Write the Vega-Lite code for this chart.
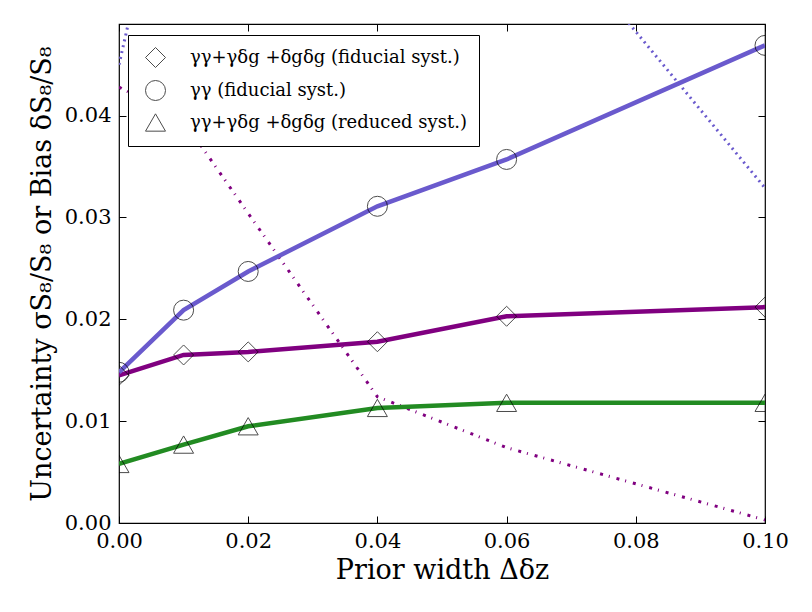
{
  "$schema": "https://vega.github.io/schema/vega-lite/v6.json",
  "width": 646,
  "height": 499,
  "autosize": "none",
  "padding": {"left": 119, "top": 24, "right": 47, "bottom": 89},
  "background": "white",
  "config": {
    "font": "DejaVu Serif",
    "view": {"stroke": "black", "strokeWidth": 1.2},
    "axis": {
      "domain": false,
      "grid": false,
      "tickColor": "black",
      "tickSize": -7,
      "tickWidth": 1,
      "labelFlush": false,
      "labelOverlap": false,
      "labelFont": "DejaVu Serif",
      "labelFontSize": 21,
      "labelColor": "black",
      "titleFont": "DejaVu Serif",
      "titleFontSize": 27,
      "titleFontWeight": "normal",
      "titleColor": "black"
    }
  },
  "datasets": {
    "rows": [
      {"dz": 0.0, "value": 0.0145, "quantity": "uncertainty", "series": "γγ+γδg +δgδg (fiducial syst.)"},
      {"dz": 0.01, "value": 0.0165, "quantity": "uncertainty", "series": "γγ+γδg +δgδg (fiducial syst.)"},
      {"dz": 0.02, "value": 0.0168, "quantity": "uncertainty", "series": "γγ+γδg +δgδg (fiducial syst.)"},
      {"dz": 0.04, "value": 0.0178, "quantity": "uncertainty", "series": "γγ+γδg +δgδg (fiducial syst.)"},
      {"dz": 0.06, "value": 0.0203, "quantity": "uncertainty", "series": "γγ+γδg +δgδg (fiducial syst.)"},
      {"dz": 0.1, "value": 0.0212, "quantity": "uncertainty", "series": "γγ+γδg +δgδg (fiducial syst.)"},
      {"dz": 0.0, "value": 0.0148, "quantity": "uncertainty", "series": "γγ (fiducial syst.)"},
      {"dz": 0.01, "value": 0.0209, "quantity": "uncertainty", "series": "γγ (fiducial syst.)"},
      {"dz": 0.02, "value": 0.0247, "quantity": "uncertainty", "series": "γγ (fiducial syst.)"},
      {"dz": 0.04, "value": 0.0311, "quantity": "uncertainty", "series": "γγ (fiducial syst.)"},
      {"dz": 0.06, "value": 0.0357, "quantity": "uncertainty", "series": "γγ (fiducial syst.)"},
      {"dz": 0.1, "value": 0.0469, "quantity": "uncertainty", "series": "γγ (fiducial syst.)"},
      {"dz": 0.0, "value": 0.0058, "quantity": "uncertainty", "series": "γγ+γδg +δgδg (reduced syst.)"},
      {"dz": 0.01, "value": 0.0077, "quantity": "uncertainty", "series": "γγ+γδg +δgδg (reduced syst.)"},
      {"dz": 0.02, "value": 0.0095, "quantity": "uncertainty", "series": "γγ+γδg +δgδg (reduced syst.)"},
      {"dz": 0.04, "value": 0.0113, "quantity": "uncertainty", "series": "γγ+γδg +δgδg (reduced syst.)"},
      {"dz": 0.06, "value": 0.0118, "quantity": "uncertainty", "series": "γγ+γδg +δgδg (reduced syst.)"},
      {"dz": 0.1, "value": 0.0118, "quantity": "uncertainty", "series": "γγ+γδg +δgδg (reduced syst.)"},
      {"dz": 0.0, "value": 0.0428, "quantity": "bias", "series": "γγ+γδg +δgδg (fiducial syst.)"},
      {"dz": 0.01, "value": 0.0395, "quantity": "bias", "series": "γγ+γδg +δgδg (fiducial syst.)"},
      {"dz": 0.02, "value": 0.0304, "quantity": "bias", "series": "γγ+γδg +δgδg (fiducial syst.)"},
      {"dz": 0.04, "value": 0.0124, "quantity": "bias", "series": "γγ+γδg +δgδg (fiducial syst.)"},
      {"dz": 0.06, "value": 0.0074, "quantity": "bias", "series": "γγ+γδg +δgδg (fiducial syst.)"},
      {"dz": 0.1, "value": 0.0003, "quantity": "bias", "series": "γγ+γδg +δgδg (fiducial syst.)"},
      {"dz": 0.0, "value": 0.045, "quantity": "bias", "series": "γγ (fiducial syst.)"},
      {"dz": 0.01, "value": 0.073, "quantity": "bias", "series": "γγ (fiducial syst.)"},
      {"dz": 0.02, "value": 0.076, "quantity": "bias", "series": "γγ (fiducial syst.)"},
      {"dz": 0.04, "value": 0.072, "quantity": "bias", "series": "γγ (fiducial syst.)"},
      {"dz": 0.06, "value": 0.0636, "quantity": "bias", "series": "γγ (fiducial syst.)"},
      {"dz": 0.1, "value": 0.0329, "quantity": "bias", "series": "γγ (fiducial syst.)"}
    ]
  },
  "data": {"name": "rows"},
  "resolve": {
    "axis": {"x": "independent", "y": "independent"},
    "legend": {"color": "independent", "shape": "independent", "strokeDash": "independent"}
  },
  "layer": [
    {
      "transform": [{"filter": "datum.quantity === 'bias'"}],
      "mark": {"type": "line", "clip": true, "strokeWidth": 3},
      "encoding": {
        "x": {"field": "dz", "type": "quantitative", "scale": {"domain": [0, 0.1]}, "axis": null},
        "y": {"field": "value", "type": "quantitative", "scale": {"domain": [0, 0.049]}, "axis": null},
        "color": {
          "field": "series",
          "type": "nominal",
          "scale": {
            "domain": ["γγ+γδg +δgδg (fiducial syst.)", "γγ (fiducial syst.)", "γγ+γδg +δgδg (reduced syst.)"],
            "range": ["#800080", "#6a5acd", "#228b22"]
          },
          "legend": null
        },
        "strokeDash": {
          "field": "series",
          "type": "nominal",
          "scale": {
            "domain": ["γγ+γδg +δgδg (fiducial syst.)", "γγ (fiducial syst.)"],
            "range": [[3, 6, 1, 7], [2, 4]]
          },
          "legend": null
        }
      }
    },
    {
      "transform": [{"filter": "datum.quantity === 'uncertainty'"}],
      "mark": {"type": "line", "clip": true, "strokeWidth": 4.5},
      "encoding": {
        "x": {
          "field": "dz",
          "type": "quantitative",
          "scale": {"domain": [0, 0.1]},
          "axis": {"orient": "bottom", "values": [0, 0.02, 0.04, 0.06, 0.08, 0.1], "format": ".2f", "labelPadding": 14, "title": "Prior width Δδz", "titlePadding": 6}
        },
        "y": {
          "field": "value",
          "type": "quantitative",
          "scale": {"domain": [0, 0.049]},
          "axis": {"orient": "left", "values": [0, 0.01, 0.02, 0.03, 0.04], "format": ".2f", "labelPadding": 15, "title": "Uncertainty σS₈/S₈ or Bias δS₈/S₈", "titlePadding": 8}
        },
        "color": {"field": "series", "type": "nominal", "legend": null}
      }
    },
    {
      "transform": [{"filter": "datum.quantity === 'uncertainty'"}],
      "mark": {"type": "point", "clip": true, "filled": false, "color": "black", "strokeWidth": 1, "size": 400},
      "encoding": {
        "x": {
          "field": "dz",
          "type": "quantitative",
          "scale": {"domain": [0, 0.1]},
          "axis": {"orient": "top", "values": [0, 0.02, 0.04, 0.06, 0.08, 0.1], "labels": false, "title": null}
        },
        "y": {
          "field": "value",
          "type": "quantitative",
          "scale": {"domain": [0, 0.049]},
          "axis": {"orient": "right", "values": [0, 0.01, 0.02, 0.03, 0.04], "labels": false, "title": null}
        },
        "shape": {
          "field": "series",
          "type": "nominal",
          "scale": {
            "domain": ["γγ+γδg +δgδg (fiducial syst.)", "γγ (fiducial syst.)", "γγ+γδg +δgδg (reduced syst.)"],
            "range": ["diamond", "circle", "triangle-up"]
          },
          "legend": {
            "title": null,
            "orient": "none",
            "legendX": 9,
            "legendY": 11,
            "strokeColor": "black",
            "fillColor": "white",
            "padding": 12,
            "cornerRadius": 0,
            "symbolSize": 400,
            "symbolOffset": 5,
            "symbolStrokeColor": "black",
            "symbolStrokeWidth": 1,
            "symbolFillColor": "transparent",
            "labelFont": "DejaVu Serif",
            "labelFontSize": 18,
            "labelColor": "black",
            "labelOffset": 24,
            "rowPadding": 8,
            "labelLimit": 400
          }
        }
      }
    }
  ]
}
